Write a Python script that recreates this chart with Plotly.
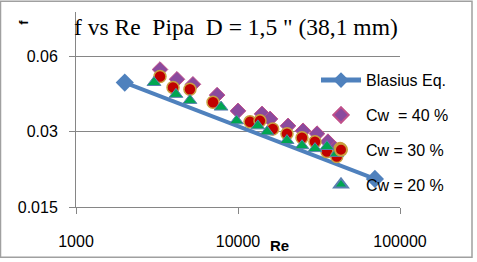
import math
import plotly.graph_objects as go

# Data
re_blasius = [2000, 70000]
f_blasius = [0.316 * r ** -0.25 for r in re_blasius]

re_cw40 = [3300, 4200, 5270, 7430, 10000, 14070, 15770, 20370, 25200, 30750, 35900, 39600]
f_cw40 = [0.0533, 0.0487, 0.0465, 0.0421, 0.0364, 0.0354, 0.0338, 0.0317, 0.0303, 0.0295, 0.0274, 0.0257]

re_cw30 = [3300, 3970, 5050, 7010, 11860, 13670, 16380, 20060, 24830, 29870, 35410, 40700, 42700]
f_cw30 = [0.0500, 0.0452, 0.0444, 0.0394, 0.0329, 0.0332, 0.0308, 0.0295, 0.0284, 0.0274, 0.0250, 0.0239, 0.0257]

re_cw20 = [3030, 4140, 5050, 7860, 9800, 13260, 15110, 20060, 24830, 29870, 35410, 40700]
f_cw20 = [0.0473, 0.0424, 0.0401, 0.0377, 0.0332, 0.0317, 0.0300, 0.0277, 0.0264, 0.0257, 0.0262, 0.0246]

x_ticks = [1000, 10000, 100000]
y_ticks = [0.015, 0.03, 0.06]
y_tick_text = ["0.015", "0.03", "0.06"]

W, H = 477, 262
L, R, T, B = 76, 77, 12, 52
pw = W - L - R
ph = H - T - B

def px_x(px):
    return (px - L) / pw

def px_y(py):
    return (H - B - py) / ph

fig = go.Figure()
fig.add_trace(go.Scatter(
    x=re_blasius, y=f_blasius, mode="lines+markers", name="Blasius Eq.",
    line=dict(color="#4F81BD", width=4),
    marker=dict(symbol="diamond", size=14, color="#4F81BD"),
    legendgroup="a"))
fig.add_trace(go.Scatter(
    x=re_cw40, y=f_cw40, mode="markers", name="Cw  = 40 %",
    marker=dict(symbol="diamond", size=12, color="#8A4A9E",
                line=dict(color="#C0508A", width=1)),
    legendgroup="b"))
fig.add_trace(go.Scatter(
    x=re_cw30, y=f_cw30, mode="markers", name="Cw = 30 %",
    marker=dict(symbol="circle", size=12, color="#C00000",
                line=dict(color="#C8A040", width=1.5)),
    legendgroup="c"))
fig.add_trace(go.Scatter(
    x=re_cw20, y=f_cw20, mode="markers", name="Cw = 20 %",
    marker=dict(symbol="triangle-up", size=12, color="#00A651",
                line=dict(color="#5A7FB0", width=1)),
    legendgroup="d"))

axis_col = "#868686"
fig.update_xaxes(type="log", range=[3, 5], tickvals=x_ticks,
                 ticktext=[str(v) for v in x_ticks],
                 showgrid=False, showline=True, linecolor=axis_col, linewidth=1,
                 ticks="outside", ticklen=6, tickcolor=axis_col,
                 ticklabelstandoff=14,
                 tickfont=dict(family="Liberation Sans", size=16, color="black"),
                 zeroline=False)
fig.update_yaxes(type="log", range=[math.log10(0.015), math.log10(0.0906)],
                 tickvals=y_ticks, ticktext=y_tick_text,
                 showgrid=True, gridcolor=axis_col, gridwidth=1,
                 showline=True, linecolor=axis_col, linewidth=1,
                 ticks="outside", ticklen=6, tickcolor=axis_col,
                 ticklabelstandoff=8,
                 tickfont=dict(family="Liberation Sans", size=16, color="black"),
                 zeroline=False)

fig.update_layout(
    width=W, height=H,
    margin=dict(l=L, r=R, t=T, b=B, pad=0),
    paper_bgcolor="white", plot_bgcolor="white",
    showlegend=True,
    legend=dict(x=px_x(316), y=px_y(64), xanchor="left", yanchor="top",
                bgcolor="rgba(0,0,0,0)", traceorder="grouped", tracegroupgap=11,
                font=dict(family="Liberation Sans", size=16, color="black"),
                itemsizing="constant", itemwidth=40),
    annotations=[
        dict(text='f vs Re\u00a0 Pipa\u00a0 D = 1,5 " (38,1 mm)', xref="paper", yref="paper",
             x=px_x(236), y=px_y(27), xanchor="center", yanchor="middle", showarrow=False,
             font=dict(family="Liberation Serif", size=23.5, color="black")),
        dict(text="<b>f</b>", xref="paper", yref="paper", x=px_x(24), y=px_y(23),
             xanchor="center", yanchor="middle", showarrow=False, textangle=-90,
             font=dict(family="Liberation Sans", size=13, color="black")),
        dict(text="<b>Re</b>", xref="paper", yref="paper", x=px_x(279), y=px_y(249),
             xanchor="center", yanchor="middle", showarrow=False,
             font=dict(family="Liberation Sans", size=15, color="black")),
    ],
    shapes=[dict(type="rect", xref="paper", yref="paper",
                 x0=px_x(0.5), x1=px_x(472), y0=px_y(261), y1=px_y(1),
                 line=dict(color="#A0A0A0", width=1.5), fillcolor="rgba(0,0,0,0)")],
)

fig.write_html("out.html")
